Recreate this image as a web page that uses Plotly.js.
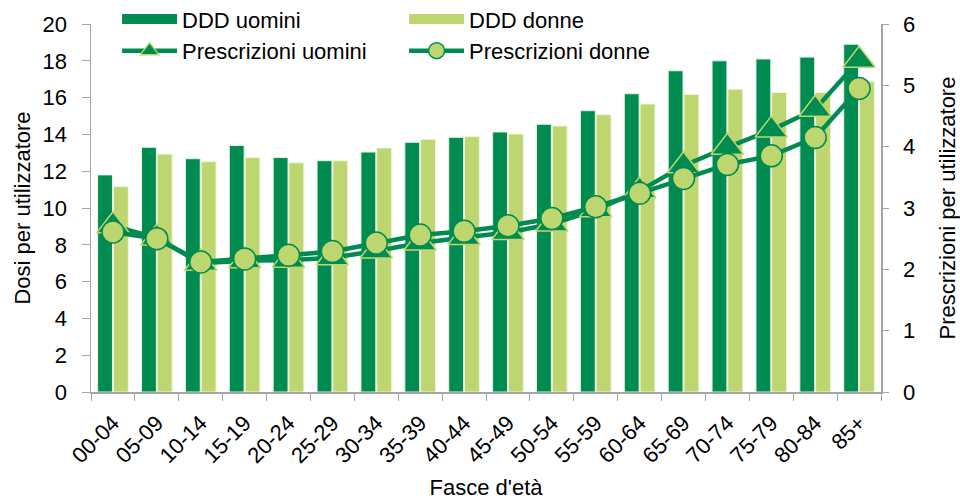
<!DOCTYPE html>
<html>
<head>
<meta charset="utf-8">
<script src="https://cdn.plot.ly/plotly-3.0.1.min.js"></script>
<style>html,body{margin:0;padding:0;background:#fff;}#chart{width:960px;height:500px;}</style>
</head>
<body>
<div id="chart"></div>
<script>
const categories = ["00-04","05-09","10-14","15-19","20-24","25-29","30-34","35-39","40-44","45-49","50-54","55-59","60-64","65-69","70-74","75-79","80-84","85+"];
const dddUomini = [11.8,13.3,12.68,13.4,12.74,12.57,13.04,13.57,13.84,14.13,14.55,15.29,16.21,17.46,18.0,18.1,18.2,18.9];
const dddDonne = [11.16,12.93,12.52,12.74,12.46,12.57,13.26,13.73,13.88,14.02,14.46,15.07,15.65,16.17,16.45,16.28,16.28,16.86];
const prescUomini = [2.71,2.51,2.10,2.14,2.15,2.19,2.30,2.43,2.52,2.60,2.74,2.97,3.28,3.69,3.99,4.27,4.61,5.41];
const prescDonne = [2.61,2.50,2.12,2.17,2.23,2.29,2.43,2.56,2.62,2.71,2.83,3.02,3.24,3.48,3.71,3.85,4.15,4.95];
const yTicks = [0,2,4,6,8,10,12,14,16,18,20];
const y2Ticks = [0,1,2,3,4,5,6];

const dark = "#008C50";
const light = "#BDD66F";
const font = "Liberation Sans, Arial, sans-serif";
const fs = 22;

const traces = [
  {type:"bar", x:categories, y:dddUomini, name:"DDD uomini", marker:{color:dark, line:{color:"#E8F2E0", width:1}}, showlegend:false, hoverinfo:"y"},
  {type:"bar", x:categories, y:dddDonne, name:"DDD donne", marker:{color:light, line:{color:"#F0F6DC", width:1}}, showlegend:false, hoverinfo:"y"},
  {type:"scatter", mode:"lines", x:[categories[0]], y:[null], name:"DDD uomini", line:{color:dark, width:12}, legendrank:1},
  {type:"scatter", mode:"lines", x:[categories[0]], y:[null], name:"DDD donne", line:{color:light, width:12}, legendrank:2},
  {type:"scatter", mode:"lines+markers", x:categories, y:prescUomini, yaxis:"y2", name:"Prescrizioni uomini",
   line:{color:dark, width:4.5}, marker:{symbol:"triangle-up", size:28, color:dark, line:{color:light, width:1.5}}, legendrank:3},
  {type:"scatter", mode:"lines+markers", x:categories, y:prescDonne, yaxis:"y2", name:"Prescrizioni donne",
   line:{color:dark, width:4.5}, marker:{symbol:"circle", size:22, color:light, line:{color:dark, width:1.5}}, legendrank:4}
];

const axisLine = "#A6A6A6";
const layout = {
  width:960, height:500,
  margin:{l:91, r:79, t:24, b:108, autoexpand:false},
  paper_bgcolor:"#fff", plot_bgcolor:"#fff",
  font:{family:font, size:fs, color:"#000"},
  barmode:"group", bargap:0.28, bargroupgap:0.06,
  xaxis:{type:"category", categoryorder:"array", categoryarray:categories, range:[-0.5, categories.length - 0.5],
    tickangle:-45, tickson:"boundaries", ticks:"outside", ticklen:7, tickcolor:axisLine,
    showline:true, linecolor:axisLine, linewidth:1.5, showgrid:false, zeroline:false, automargin:false,
    tickfont:{family:font, size:fs}, ticklabelstandoff:8, title:{text:"Fasce d'età", font:{family:font, size:fs}, standoff:14}},
  yaxis:{range:[0,20], tickvals:yTicks, ticks:"outside", ticklen:8, tickcolor:axisLine, showline:true, linecolor:axisLine, linewidth:1.5,
    showgrid:false, zeroline:false, automargin:false, tickfont:{family:font, size:fs}, ticklabelstandoff:10,
    title:{text:"Dosi per utilizzatore", font:{family:font, size:fs}, standoff:6}},
  yaxis2:{range:[0,6], tickvals:y2Ticks, overlaying:"y", side:"right", ticks:"outside", ticklen:6, tickcolor:axisLine, showline:true,
    linecolor:axisLine, linewidth:1.5, showgrid:false, zeroline:false, automargin:false, tickfont:{family:font, size:fs}, ticklabelstandoff:10,
    title:{text:"Prescrizioni per utilizzatore", font:{family:font, size:fs}, standoff:30}},
  legend:{orientation:"h", x:0.033, xanchor:"left", y:1.07, yanchor:"top", bgcolor:"rgba(0,0,0,0)",
    font:{family:font, size:fs}, itemwidth:55, entrywidth:217, traceorder:"normal"},
  showlegend:true
};

Plotly.newPlot("chart", traces, layout, {displayModeBar:false, staticPlot:true});
</script>
</body>
</html>
